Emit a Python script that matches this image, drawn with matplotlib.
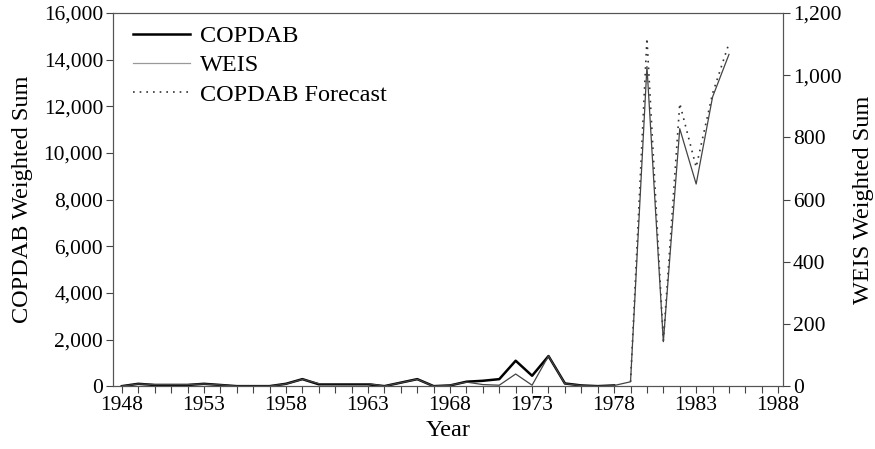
import numpy as np
import matplotlib
matplotlib.use("Agg")
import matplotlib.pyplot as plt
from matplotlib.ticker import FuncFormatter, MultipleLocator

plt.rcParams['font.family'] = ['Liberation Serif', 'DejaVu Serif']

years_copdab = list(range(1948, 1979))
copdab = [0, 100, 50, 50, 50, 100, 50, 0, 0, 0, 100, 300, 80, 80, 80, 80, 0,
          150, 300, 0, 30, 190, 230, 300, 1090, 445, 1290, 115, 30, 0, 30]

# WEIS on the right axis scale (0-1200)
years_weis = list(range(1948, 1986))
weis = [0, 7, 5, 5, 5, 7, 4, 0, 0, 0, 7, 22, 8, 8, 8, 8, 0,
        11, 22, 0, 3, 13, 5, 3, 39, 3, 97, 8, 2, 0, 2, 14,
        1028, 143, 828, 650, 930, 1067]

years_fc = list(range(1979, 1986))
forecast = [185, 14920, 1950, 12120, 9390, 12550, 14700]

fig = plt.figure(figsize=(8.75, 4.49), dpi=100)
ax = fig.add_axes([0.129, 0.140, 0.766, 0.831])
ax2 = ax.twinx()

l1, = ax.plot(years_copdab, copdab, color='black', lw=1.8, label='COPDAB')
l2, = ax2.plot(years_weis, weis, color='#444444', lw=0.9, label='WEIS')
l3, = ax.plot(years_fc, forecast, color='#333333', lw=1.2, ls=(0, (1, 3)),
              label='COPDAB Forecast')

ax.set_xlim(1947.45, 1988.3)
ax.set_ylim(0, 16000)
ax2.set_ylim(0, 1200)

ax.set_xticks(range(1948, 1989, 5))
ax.xaxis.set_minor_locator(MultipleLocator(1))
ax.set_yticks(range(0, 16001, 2000))
ax2.set_yticks(range(0, 1201, 200))
fmt = FuncFormatter(lambda v, p: f"{int(v):,}")
ax.yaxis.set_major_formatter(fmt)
ax2.yaxis.set_major_formatter(fmt)

for a in (ax, ax2):
    a.tick_params(axis='both', which='both', direction='out', labelsize=15.5,
                  length=5, width=0.8, color='#444444', pad=2)
    for s in a.spines.values():
        s.set_linewidth(0.8)
        s.set_color('#555555')

ax.set_xlabel('Year', fontsize=17.5, labelpad=4)
ax.set_ylabel('COPDAB Weighted Sum', fontsize=17.5, labelpad=8)
ax2.set_ylabel('WEIS Weighted Sum', fontsize=17.5, labelpad=8)

leg = ax.legend(handles=[l1, l2, l3], loc='upper left', frameon=False,
                bbox_to_anchor=(0.012, 1.0),
                fontsize=17.5, handlelength=2.35, borderaxespad=0.1,
                labelspacing=0.3, handletextpad=0.4)
leg.legend_handles[1].set_color('#999999')

fig.savefig('out.png', dpi=100)
